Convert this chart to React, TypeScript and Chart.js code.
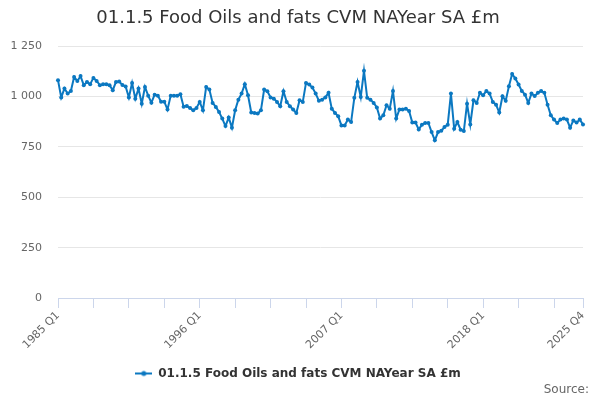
import React, { useEffect, useRef } from "react";
import { Chart, registerables } from "chart.js";

Chart.register(...registerables);

const TITLE = "01.1.5 Food Oils and fats CVM NAYear SA £m";
const SERIES_NAME = "01.1.5 Food Oils and fats CVM NAYear SA £m";
const START_YEAR = 1985;
const END_YEAR = 2025;

const quarters: string[] = [];
for (let y = START_YEAR; y <= END_YEAR; y++) {
  for (let q = 1; q <= 4; q++) quarters.push(`${y} Q${q}`);
}

const labelledQuarters = ["1985 Q1", "1996 Q1", "2007 Q1", "2018 Q1", "2025 Q4"];
const yTicks = [0, 250, 500, 750, 1000, 1250];

const values: number[] = [
  1082, 996, 1040, 1015, 1028, 1098, 1078, 1102, 1057, 1073,
  1062, 1093, 1078, 1057, 1062, 1062, 1057, 1032, 1073, 1075,
  1058, 1050, 996, 1068, 990, 1040, 965, 1048, 1005, 970,
  1010, 1005, 975, 975, 936, 1005, 1005, 1005, 1012, 950,
  953, 943, 932, 944, 974, 932, 1048, 1035, 969, 949,
  924, 891, 854, 896, 846, 932, 985, 1015, 1062, 1007,
  921, 919, 916, 932, 1035, 1027, 996, 990, 974, 952,
  1027, 974, 952, 936, 919, 982, 974, 1068, 1060, 1045,
  1015, 980, 985, 996, 1019, 940, 919, 902, 857, 857,
  886, 874, 994, 1073, 998, 1128, 994, 985, 969, 946,
  891, 907, 957, 940, 1028, 891, 936, 936, 940, 929,
  871, 871, 837, 861, 869, 869, 824, 783, 824, 830,
  849, 861, 1015, 841, 874, 836, 829, 965, 862, 982,
  969, 1019, 1007, 1028, 1015, 974, 960, 921, 1002, 979,
  1052, 1112, 1090, 1060, 1028, 1010, 969, 1015, 1003, 1019,
  1028, 1019, 960, 907, 886, 869, 886, 891, 886, 846,
  882, 871, 886, 862,
];

const LINE_COLOR = "#0b78c1";
const FONT = '"DejaVu Sans", "Liberation Sans", sans-serif';

function fmt(v: number): string {
  return String(v).replace(/\B(?=(\d{3})+(?!\d))/g, " ");
}

function makeLegendSymbol(): HTMLCanvasElement {
  const c = document.createElement("canvas");
  c.width = 17;
  c.height = 8;
  const g = c.getContext("2d")!;
  g.strokeStyle = LINE_COLOR;
  g.lineWidth = 2;
  g.beginPath();
  g.moveTo(0, 4);
  g.lineTo(17, 4);
  g.stroke();
  g.fillStyle = LINE_COLOR;
  g.beginPath();
  g.arc(8.5, 4, 2.5, 0, Math.PI * 2);
  g.fill();
  return c;
}

const sourcePlugin = {
  id: "sourceText",
  afterDraw(chart: any) {
    const ctx = chart.ctx;
    ctx.save();
    ctx.font = `12px ${FONT}`;
    ctx.fillStyle = "#666666";
    ctx.textAlign = "right";
    ctx.textBaseline = "middle";
    ctx.fillText("Source:", 589, 390);
    ctx.restore();
  },
};

export default function App() {
  const ref = useRef<HTMLCanvasElement>(null);

  useEffect(() => {
    if (!ref.current) return;
    const lastIndex = quarters.length - 1;
    const chart = new Chart(ref.current, {
      type: "line",
      data: {
        labels: quarters,
        datasets: [
          {
            label: SERIES_NAME,
            data: values,
            borderColor: LINE_COLOR,
            backgroundColor: LINE_COLOR,
            borderWidth: 2,
            pointRadius: 2,
            pointBorderWidth: 0,
            pointBackgroundColor: LINE_COLOR,
            tension: 0,
            yAxisID: "y",
          },
        ],
      },
      options: {
        responsive: false,
        animation: false,
        layout: { padding: { left: 0, right: 4, top: 0, bottom: 10.5 } },
        plugins: {
          title: {
            display: true,
            text: TITLE,
            color: "#333333",
            font: { family: FONT, size: 18, weight: "normal" as any, lineHeight: 1.2 },
            padding: { top: 7.5, bottom: 17.2 },
          },
          legend: {
            display: true,
            position: "bottom",
            labels: {
              usePointStyle: true,
              pointStyle: makeLegendSymbol() as any,
              pointStyleWidth: 17,
              color: "#333333",
              font: { family: FONT, size: 12, weight: "bold" as any },
              padding: 10,
            },
          },
          tooltip: { enabled: false },
        },
        scales: {
          x: {
            type: "category",
            offset: false,
            afterFit: (s: any) => {
              s.height = 59.5;
            },
            grid: {
              display: true,
              drawOnChartArea: false,
              drawTicks: true,
              tickLength: 10,
              color: (c: any) =>
                c.index % 11 === 0 || c.index === lastIndex ? "#ccd6eb" : "rgba(0,0,0,0)",
            },
            border: { display: true, color: "#ccd6eb", width: 1 },
            ticks: {
              autoSkip: false,
              maxRotation: 45,
              minRotation: 45,
              padding: 1,
              color: "#666666",
              font: { family: FONT, size: 11 },
              callback: (_v: any, i: number) =>
                labelledQuarters.includes(quarters[i]) ? quarters[i] : "",
            },
          },
          y: {
            min: 0,
            max: 1250,
            afterFit: (s: any) => {
              s.width = 58;
            },
            afterBuildTicks: (s: any) => {
              s.ticks = yTicks.map((v) => ({ value: v }));
            },
            grid: { color: "#e6e6e6", drawTicks: false, lineWidth: 1 },
            border: { display: false },
            ticks: {
              padding: 16,
              color: "#666666",
              font: { family: FONT, size: 11 },
              callback: (v: any) => fmt(Number(v)),
            },
          },
          yRight: {
            position: "right",
            display: true,
            min: 0,
            max: 1250,
            afterFit: (s: any) => {
              s.width = 13;
            },
            grid: { display: false, drawTicks: false },
            border: { display: false },
            ticks: { display: false },
          },
        },
      },
      plugins: [sourcePlugin],
    });
    return () => chart.destroy();
  }, []);

  return (
    <div style={{ position: "fixed", left: 0, top: 0, width: 600, height: 400, background: "#fff" }}>
      <canvas ref={ref} width={600} height={400} />
    </div>
  );
}
